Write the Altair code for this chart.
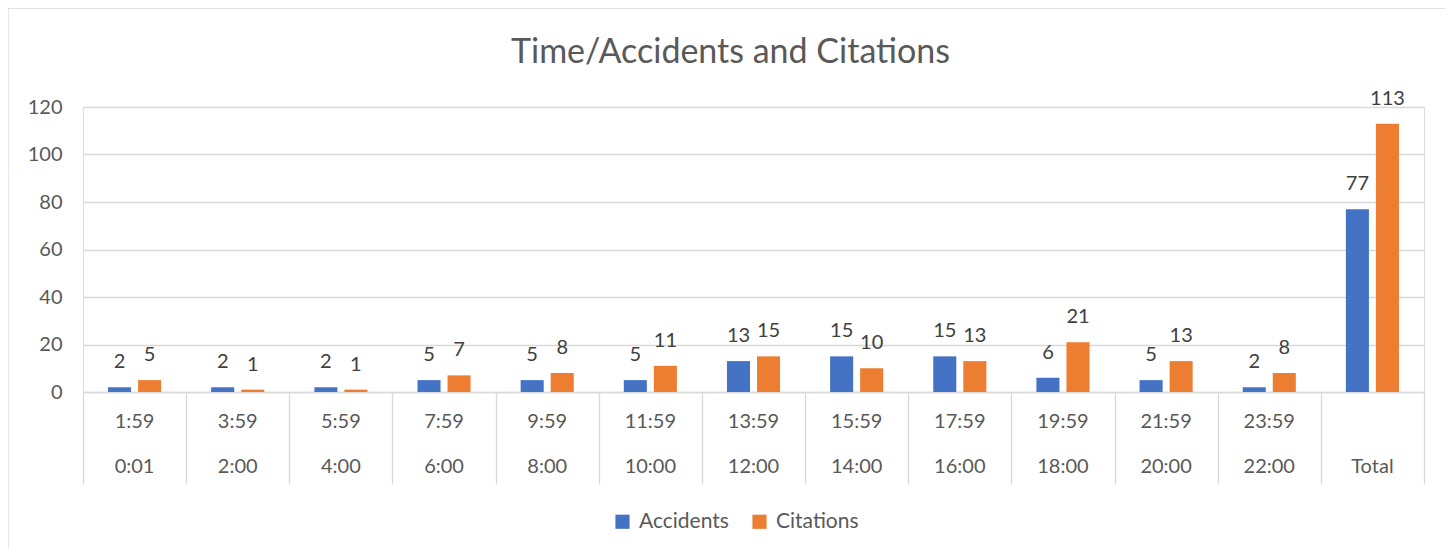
import altair as alt
import pandas as pd

title_text = "Time/Accidents and Citations"
categories = ["0:01-1:59", "2:00-3:59", "4:00-5:59", "6:00-7:59", "8:00-9:59", "10:00-11:59",
              "12:00-13:59", "14:00-15:59", "16:00-17:59", "18:00-19:59", "20:00-21:59",
              "22:00-23:59", "Total"]
upper_labels = ["1:59", "3:59", "5:59", "7:59", "9:59", "11:59", "13:59", "15:59", "17:59",
                "19:59", "21:59", "23:59", ""]
lower_labels = ["0:01", "2:00", "4:00", "6:00", "8:00", "10:00", "12:00", "14:00", "16:00",
                "18:00", "20:00", "22:00", "Total"]
accidents = [2, 2, 2, 5, 5, 5, 13, 15, 15, 6, 5, 2, 77]
citations = [5, 1, 1, 7, 8, 11, 15, 10, 13, 21, 13, 8, 113]
series = ["Accidents", "Citations"]
colors = ["#4472C4", "#ED7D31"]

rows = []
for c, a, ci in zip(categories, accidents, citations):
    rows.append({"cat": c, "series": "Accidents", "value": a})
    rows.append({"cat": c, "series": "Citations", "value": ci})
df = pd.DataFrame(rows)
lab = pd.DataFrame({"cat": categories, "upper": upper_labels, "lower": lower_labels})

W, H = 1341, 285
FONT = "Lato"
GRAY = "#595959"
LINE = "#d9d9d9"
FS = 20

xenc = alt.X("cat:N", sort=categories,
             scale=alt.Scale(paddingInner=0, paddingOuter=0),
             axis=alt.Axis(labels=False, title=None, tickBand="extent", tickSize=92,
                           tickColor=LINE, domainColor=LINE, tickWidth=1.3, domainWidth=1.3))
xoff = alt.XOffset("series:N", sort=series,
                   scale=alt.Scale(paddingInner=0.233, paddingOuter=0.833))
yenc = alt.Y("value:Q", scale=alt.Scale(domain=[0, 120], nice=False),
             axis=alt.Axis(values=[0, 20, 40, 60, 80, 100, 120], title=None, domain=False,
                           ticks=False, gridColor=LINE, gridWidth=1.3, labelPadding=21,
                           labelFontSize=FS, labelColor=GRAY, labelFont=FONT))

bars = alt.Chart(df).mark_bar().encode(
    x=xenc, xOffset=xoff, y=yenc,
    color=alt.Color("series:N", sort=series,
                    scale=alt.Scale(domain=series, range=colors),
                    legend=alt.Legend(title=None, orient="none", direction="horizontal",
                                      legendX=529, legendY=404, symbolType="square",
                                      symbolSize=200, symbolStrokeWidth=0,
                                      labelFontSize=21, labelFont=FONT, labelColor=GRAY,
                                      columnPadding=20, labelOffset=6))
)

text = alt.Chart(df).mark_text(baseline="middle", dy=-25, fontSize=FS, font=FONT,
                               color="#404040").encode(
    x=alt.X("cat:N", sort=categories), xOffset=xoff, y="value:Q", text="value:Q"
)

up = alt.Chart(lab).mark_text(baseline="middle", fontSize=FS, font=FONT, color=GRAY).encode(
    x=alt.X("cat:N", sort=categories), y=alt.value(H + 30), text="upper:N"
)
low = alt.Chart(lab).mark_text(baseline="middle", fontSize=FS, font=FONT, color=GRAY).encode(
    x=alt.X("cat:N", sort=categories), y=alt.value(H + 75), text="lower:N"
)

ttl = alt.Chart(pd.DataFrame({"t": [title_text]})).mark_text(
    baseline="middle", fontSize=34, font=FONT, color=GRAY).encode(
    x=alt.value(W / 2 - 23), y=alt.value(-54), text="t:N"
)

frame = alt.Chart(pd.DataFrame({"a": [0]})).mark_rect(
    fill="transparent", stroke=LINE, strokeWidth=1.3).encode(
    x=alt.value(-75), x2=alt.value(W + 35), y=alt.value(-99), y2=alt.value(H + 172)
)

chart = alt.layer(frame, bars, text, up, low, ttl).properties(
    width=W, height=H,
    autosize=alt.AutoSizeParams(type="none"),
    padding={"left": 75, "top": 99, "right": 21, "bottom": 156},
).configure_view(stroke=None).configure(background="white")

chart.save("out.html", embed_options={"renderer": "svg", "actions": False})
